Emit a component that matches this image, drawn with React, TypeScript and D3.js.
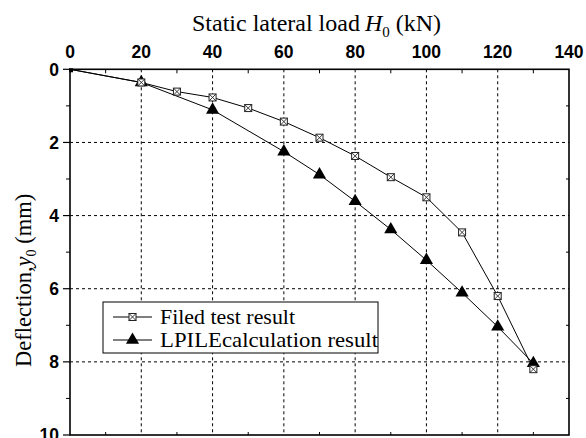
import React, { useEffect, useRef } from "react";
import * as d3 from "d3";

const xTicks = [0, 20, 40, 60, 80, 100, 120, 140];
const yTicks = [0, 2, 4, 6, 8, 10];
const testLoad = [0, 20, 30, 40, 50, 60, 70, 80, 90, 100, 110, 120, 130];
const testDefl = [0, 0.36, 0.61, 0.77, 1.06, 1.43, 1.87, 2.37, 2.95, 3.5, 4.46, 6.2, 8.2];
const lpileLoad = [0, 20, 40, 60, 70, 80, 90, 100, 110, 120, 130];
const lpileDefl = [0, 0.36, 1.11, 2.25, 2.88, 3.61, 4.38, 5.22, 6.11, 7.04, 8.04];
const legendLabels = ["Filed test result", "LPILEcalculation result"];

const W = 586;
const H = 438;
const M = { left: 70, right: 569, top: 69.3, bottom: 435 };
const SERIF = "'Liberation Serif', 'Times New Roman', serif";
const SANS = "'Liberation Sans', Arial, sans-serif";

export default function App() {
  const ref = useRef<SVGSVGElement>(null);

  useEffect(() => {
    const svg = d3.select(ref.current);
    svg.selectAll("*").remove();
    const x = d3.scaleLinear().domain([0, 140]).range([M.left, M.right]);
    const y = d3.scaleLinear().domain([0, 10]).range([M.top, M.bottom]);

    const g = svg.append("g");

    // grid
    g.selectAll("line.gx")
      .data(xTicks.filter((t) => t > 0 && t < 140))
      .join("line")
      .attr("x1", (d) => x(d)).attr("x2", (d) => x(d))
      .attr("y1", M.top).attr("y2", M.bottom)
      .attr("stroke", "#000").attr("stroke-width", 1).attr("stroke-dasharray", "3,3");
    g.selectAll("line.gy")
      .data(yTicks.filter((t) => t > 0 && t < 10))
      .join("line")
      .attr("y1", (d) => y(d)).attr("y2", (d) => y(d))
      .attr("x1", M.left).attr("x2", M.right)
      .attr("stroke", "#000").attr("stroke-width", 1).attr("stroke-dasharray", "3,3");

    // frame
    g.append("rect")
      .attr("x", M.left).attr("y", M.top)
      .attr("width", M.right - M.left).attr("height", M.bottom - M.top)
      .attr("fill", "none").attr("stroke", "#000").attr("stroke-width", 1.6);

    // top / bottom minor ticks (inward)
    const xMinor = d3.range(10, 140, 20);
    g.selectAll("line.tmx").data(xMinor).join("line")
      .attr("x1", (d) => x(d)).attr("x2", (d) => x(d))
      .attr("y1", M.top).attr("y2", M.top + 4)
      .attr("stroke", "#000").attr("stroke-width", 1);
    g.selectAll("line.bmx").data(xMinor).join("line")
      .attr("x1", (d) => x(d)).attr("x2", (d) => x(d))
      .attr("y1", M.bottom).attr("y2", M.bottom - 3)
      .attr("stroke", "#000").attr("stroke-width", 1);
    // left axis ticks (outward)
    const yMinor = d3.range(1, 10, 2);
    g.selectAll("line.lmy").data(yMinor).join("line")
      .attr("y1", (d) => y(d)).attr("y2", (d) => y(d))
      .attr("x1", M.left).attr("x2", M.left - 4)
      .attr("stroke", "#000").attr("stroke-width", 1);
    g.selectAll("line.lMy").data(yTicks).join("line")
      .attr("y1", (d) => y(d)).attr("y2", (d) => y(d))
      .attr("x1", M.left).attr("x2", M.left - 7)
      .attr("stroke", "#000").attr("stroke-width", 1.2);
    g.selectAll("line.rmy").data(yMinor).join("line")
      .attr("y1", (d) => y(d)).attr("y2", (d) => y(d))
      .attr("x1", M.right).attr("x2", M.right - 3)
      .attr("stroke", "#000").attr("stroke-width", 1);

    // tick labels
    g.selectAll("text.xt").data(xTicks).join("text")
      .attr("x", (d) => x(d)).attr("y", 58)
      .attr("text-anchor", "middle")
      .attr("font-family", SANS).attr("font-weight", "bold").attr("font-size", 17.5)
      .text((d) => String(d));
    g.selectAll("text.yt").data(yTicks).join("text")
      .attr("x", 59).attr("y", (d) => y(d) + 6.3)
      .attr("text-anchor", "end")
      .attr("font-family", SANS).attr("font-weight", "bold").attr("font-size", 17.5)
      .text((d) => String(d));

    // titles
    const xt = g.append("text")
      .attr("x", 192).attr("y", 31)
      .attr("font-family", SERIF).attr("font-size", 24);
    xt.append("tspan").text("Static lateral load ");
    xt.append("tspan").attr("font-style", "italic").attr("dx", -1).text("H");
    xt.append("tspan").attr("font-size", 15).attr("dy", 6).text("0");
    xt.append("tspan").attr("dy", -6).text(" (kN)");

    const yt = g.append("text")
      .attr("transform", `translate(31,367) rotate(-90)`)
      .attr("font-family", SERIF).attr("font-size", 22.5);
    yt.append("tspan").text("Deflection,");
    yt.append("tspan").attr("font-style", "italic").text("y");
    yt.append("tspan").attr("font-size", 14).attr("dy", 5).text("0");
    yt.append("tspan").attr("dy", -5).text(" (mm)");

    // lines
    const line = d3.line<[number, number]>().x((d) => x(d[0])).y((d) => y(d[1]));
    const testPts: [number, number][] = testLoad.map((v, i) => [v, testDefl[i]]);
    const lpPts: [number, number][] = lpileLoad.map((v, i) => [v, lpileDefl[i]]);
    g.append("path").attr("d", line(lpPts)).attr("fill", "none").attr("stroke", "#000").attr("stroke-width", 1);
    g.append("path").attr("d", line(testPts)).attr("fill", "none").attr("stroke", "#000").attr("stroke-width", 1);

    const tri = d3.symbol().type(d3.symbolTriangle).size(75);
    const drawSquare = (sel: any, cx: number, cy: number, s: number) => {
      const h = s / 2;
      sel.append("rect").attr("x", cx - h).attr("y", cy - h).attr("width", s).attr("height", s)
        .attr("fill", "#fff").attr("stroke", "#222").attr("stroke-width", 1);
      sel.append("path")
        .attr("d", `M${cx - h},${cy - h}L${cx + h},${cy + h}M${cx + h},${cy - h}L${cx - h},${cy + h}`)
        .attr("stroke", "#222").attr("stroke-width", 0.9);
    };

    lpPts.slice(1).forEach((p) => {
      g.append("path").attr("d", tri()).attr("transform", `translate(${x(p[0])},${y(p[1])})`).attr("fill", "#000");
    });
    testPts.slice(1).forEach((p) => {
      drawSquare(g, x(p[0]), y(p[1]), 7);
    });
    g.append("rect").attr("x", x(0) - 1).attr("y", y(0) - 1).attr("width", 4).attr("height", 4).attr("fill", "#000");

    // legend
    const lg = g.append("g");
    lg.append("rect").attr("x", 103).attr("y", 302).attr("width", 275).attr("height", 51)
      .attr("fill", "#fff").attr("stroke", "#000").attr("stroke-width", 1);
    const rows = [317, 340];
    const lens = [135, 218];
    rows.forEach((ry, i) => {
      lg.append("line").attr("x1", 113).attr("x2", 152).attr("y1", ry).attr("y2", ry)
        .attr("stroke", "#000").attr("stroke-width", 1);
      if (i === 0) drawSquare(lg, 132.5, ry, 7);
      else lg.append("path").attr("d", tri()).attr("transform", `translate(132.5,${ry})`).attr("fill", "#000");
      lg.append("text").attr("x", 160).attr("y", ry + 7)
        .attr("font-family", SERIF).attr("font-size", 22)
        .attr("textLength", lens[i]).attr("lengthAdjust", "spacingAndGlyphs")
        .text(legendLabels[i]);
    });
  }, []);

  return (
    <svg ref={ref} width={W} height={H}
      style={{ position: "absolute", left: 0, top: 0, background: "#fff" }} />
  );
}
